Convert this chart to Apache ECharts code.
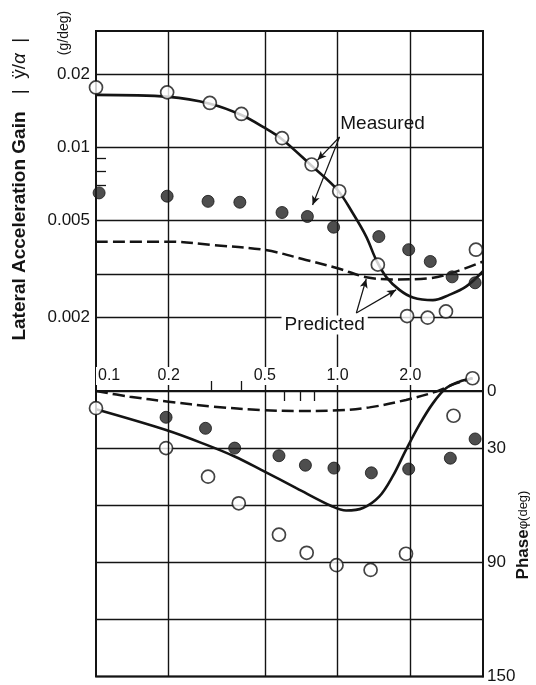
<!DOCTYPE html>
<html>
<head>
<meta charset="utf-8">
<script src="https://cdn.jsdelivr.net/npm/echarts@6/dist/echarts.min.js"></script>
<style>
  html, body { margin: 0; padding: 0; background: #ffffff; }
  #chart { width: 536px; height: 685px; }
</style>
</head>
<body>
<div id="chart"></div>
<script>
// Frequency axis (Hz, log scale)
const freqGrid = [0.2, 0.5, 1, 2];
const freqLabels = [0.1, 0.2, 0.5, 1, 2];
const freqMinorUp = [0.3, 0.4];
const freqMinorDown = [0.6, 0.7, 0.8];

// Gain axis (g/deg, log scale)
const gainGrid = [0.002, 0.003, 0.005, 0.01, 0.02];
const gainLabels = [0.002, 0.005, 0.01, 0.02];
const gainMinor = [0.007, 0.008, 0.009];

// Phase axis (deg)
const phaseLabels = [0, 30, 90, 150];

// Gain: measured, open circles
const gainOpenFreq = [0.1, 0.197, 0.296, 0.40, 0.589, 0.781, 1.016, 1.468, 1.94, 2.36, 2.81, 3.74];
const gainOpen = [0.0176, 0.0168, 0.0152, 0.0137, 0.0109, 0.0085, 0.0066, 0.0033, 0.00203, 0.0020, 0.00212, 0.0038];

// Gain: measured, filled circles
const gainFilledFreq = [0.103, 0.197, 0.291, 0.394, 0.589, 0.750, 0.963, 1.482, 1.97, 2.42, 2.98, 3.71];
const gainFilled = [0.0065, 0.0063, 0.0060, 0.00595, 0.0054, 0.0052, 0.0047, 0.0043, 0.0038, 0.0034, 0.00294, 0.00278];

// Gain: predicted, solid curve
const gainSolidFreq = [0.1, 0.2, 0.296, 0.40, 0.5, 0.589, 0.781, 1.0, 1.157, 1.314, 1.445, 1.589, 1.804, 2.05, 2.48, 2.90, 3.40, 4.0];
const gainSolid = [0.0164, 0.0161, 0.0151, 0.01357, 0.0120, 0.0108, 0.0084, 0.00668, 0.00536, 0.0043, 0.00345, 0.00294, 0.0026, 0.00242, 0.00236, 0.00248, 0.00268, 0.0031];

// Gain: predicted, dashed curve
const gainDashFreq = [0.1, 0.2, 0.305, 0.5, 0.74, 1.0, 1.314, 1.69, 2.40, 3.09, 4.0];
const gainDash = [0.0041, 0.0041, 0.00397, 0.00379, 0.00345, 0.00319, 0.00293, 0.00287, 0.0029, 0.00309, 0.0034];

// Phase: measured, open circles
const phaseOpenFreq = [0.1, 0.195, 0.291, 0.39, 0.572, 0.745, 0.99, 1.37, 1.92, 3.02, 3.62];
const phaseOpen = [9, 30, 45, 59, 75.5, 85, 91.5, 94, 85.5, 13, -6.7];

// Phase: measured, filled circles
const phaseFilledFreq = [0.195, 0.284, 0.375, 0.572, 0.736, 0.966, 1.38, 1.97, 2.93, 3.71];
const phaseFilled = [13.8, 19.6, 30, 34, 39, 40.5, 43, 41, 35.3, 25.2];

// Phase: predicted, solid curve
const phaseSolidFreq = [0.1, 0.195, 0.287, 0.375, 0.483, 0.675, 0.953, 1.085, 1.273, 1.49, 1.69, 1.92, 2.18, 2.48, 2.81, 3.19, 3.62];
const phaseSolid = [9.6, 20.5, 28.3, 34.4, 41.4, 51, 60.7, 62.8, 61.5, 55.4, 44.9, 30.9, 17.8, 6.5, -1.4, -4.9, -6.7];

// Phase: predicted, dashed curve
const phaseDashFreq = [0.1, 0.138, 0.2, 0.305, 0.483, 0.675, 0.953, 1.356, 1.92, 2.56, 3.09, 3.62];
const phaseDash = [0, 3, 5.6, 8.2, 10, 10.5, 10.3, 8.6, 4.7, 0.3, -4, -6.7];

// Callout arrows (data coordinates: [freq, gain])
const measuredArrows = [
  [[1.019, 0.01102], [0.826, 0.00886]],
  [[1.019, 0.01102], [0.788, 0.0058]]
];
const predictedArrows = [
  [[1.196, 0.00209], [1.314, 0.00288]],
  [[1.196, 0.00209], [1.747, 0.0026]]
];
const measuredLabelAt = [1.535, 0.01246];
const predictedLabelAt = [0.884, 0.001866];

const zip = (xs, ys) => xs.map((x, i) => [x, ys[i]]);
const INK = '#141414';
const FONT = '"Liberation Sans", Arial, Helvetica, sans-serif';
const gridLine = { show: true, lineStyle: { color: INK, width: 1.4, type: 'solid' } };
const trim = v => String(parseFloat(Number(v).toPrecision(3)));

const chart = echarts.init(document.getElementById('chart'), null, { renderer: 'canvas' });

const option = {
  animation: false,
  backgroundColor: '#ffffff',
  textStyle: { fontFamily: FONT, color: INK },
  grid: [
    { left: 96, right: 53, top: 31, height: 360, show: true, borderColor: INK, borderWidth: 2, backgroundColor: 'transparent' },
    { left: 96, right: 53, top: 391, height: 286, show: true, borderColor: INK, borderWidth: 2, backgroundColor: 'transparent' }
  ],
  xAxis: [
    {
      gridIndex: 0, type: 'log', logBase: 10, min: 0.1, max: 4,
      axisLine: { show: false },
      axisTick: { show: false, customValues: freqGrid },
      axisLabel: { show: false },
      splitLine: gridLine
    },
    {
      gridIndex: 1, type: 'log', logBase: 10, min: 0.1, max: 4, position: 'top',
      axisLine: { show: true, lineStyle: { color: INK, width: 2 } },
      axisTick: { show: false, customValues: freqGrid },
      axisLabel: {
        show: true, customValues: freqLabels, margin: 6,
        fontSize: 16, color: INK, fontFamily: FONT,
        backgroundColor: '#ffffff', padding: [1, 2, 1, 2],
        alignMinLabel: 'left',
        formatter: v => Number(v).toFixed(1)
      },
      splitLine: gridLine,
      z: 10
    },
    {
      gridIndex: 1, type: 'log', logBase: 10, min: 0.1, max: 4, position: 'top',
      axisLine: { show: false },
      axisTick: { show: true, inside: false, length: 10, customValues: freqMinorUp, lineStyle: { color: INK, width: 1.3 } },
      axisLabel: { show: false },
      splitLine: { show: false }
    },
    {
      gridIndex: 1, type: 'log', logBase: 10, min: 0.1, max: 4, position: 'top',
      axisLine: { show: false },
      axisTick: { show: true, inside: true, length: 10, customValues: freqMinorDown, lineStyle: { color: INK, width: 1.3 } },
      axisLabel: { show: false },
      splitLine: { show: false }
    }
  ],
  yAxis: [
    {
      gridIndex: 0, type: 'log', logBase: 10, min: 0.001, max: 0.03,
      axisLine: { show: true, lineStyle: { color: INK, width: 2 } },
      axisTick: { show: false, customValues: gainGrid },
      axisLabel: {
        show: true, customValues: gainLabels, margin: 6,
        fontSize: 17, color: INK, fontFamily: FONT,
        formatter: v => trim(v)
      },
      splitLine: gridLine
    },
    {
      gridIndex: 0, type: 'log', logBase: 10, min: 0.001, max: 0.03, position: 'left',
      axisLine: { show: false },
      axisTick: { show: true, inside: true, length: 10, customValues: gainMinor, lineStyle: { color: INK, width: 1.3 } },
      axisLabel: { show: false },
      splitLine: { show: false }
    },
    {
      gridIndex: 1, type: 'value', min: 0, max: 150, interval: 30, inverse: true, position: 'right',
      axisLine: { show: true, lineStyle: { color: INK, width: 2 } },
      axisTick: { show: false },
      axisLabel: {
        show: true, customValues: phaseLabels, margin: 4,
        fontSize: 17, color: INK, fontFamily: FONT
      },
      splitLine: gridLine
    }
  ],
  graphic: [
    {
      type: 'text', x: 20, y: 226, rotation: Math.PI / 2,
      style: { text: 'Lateral Acceleration Gain', font: 'bold 19px ' + FONT, fill: INK, align: 'center', verticalAlign: 'middle' }
    },
    {
      type: 'text', x: 20, y: 66, rotation: Math.PI / 2,
      style: {
        text: '{n||  ÿ/}{g|α}{n|  |}',
        fill: INK, align: 'center', verticalAlign: 'middle',
        rich: {
          n: { fontSize: 19, fontFamily: FONT, fill: INK },
          g: { fontSize: 19, fontFamily: FONT, fontStyle: 'italic', fill: INK }
        }
      }
    },
    {
      type: 'text', x: 64, y: 33, rotation: Math.PI / 2,
      style: { text: '(g/deg)', font: '14px ' + FONT, fill: INK, align: 'center', verticalAlign: 'middle' }
    },
    {
      type: 'text', x: 523, y: 535, rotation: Math.PI / 2,
      style: {
        text: '{b|Phase}{s|φ(deg)}',
        fill: INK, align: 'center', verticalAlign: 'middle',
        rich: {
          b: { fontSize: 17, fontWeight: 'bold', fontFamily: FONT, fill: INK },
          s: { fontSize: 13, fontFamily: FONT, fill: INK }
        }
      }
    }
  ],
  series: [
    {
      name: 'Gain predicted (solid)', type: 'line', xAxisIndex: 0, yAxisIndex: 0,
      data: zip(gainSolidFreq, gainSolid), smooth: 0.35, showSymbol: false, symbol: 'none',
      lineStyle: { color: INK, width: 2.6 }, z: 3
    },
    {
      name: 'Gain predicted (dashed)', type: 'line', xAxisIndex: 0, yAxisIndex: 0,
      data: zip(gainDashFreq, gainDash), smooth: 0.35, showSymbol: false, symbol: 'none',
      lineStyle: { color: INK, width: 2.5, type: [12, 5] }, z: 3,
      markLine: {
        silent: true, symbol: ['none', 'arrow'], symbolSize: [6, 9],
        lineStyle: { color: INK, width: 1.2, type: 'solid' },
        label: { show: false },
        data: measuredArrows.concat(predictedArrows).map(a => [{ coord: a[0] }, { coord: a[1] }])
      },
      markPoint: {
        silent: true, symbol: 'circle', symbolSize: 1,
        itemStyle: { color: 'rgba(0,0,0,0)' },
        data: [
          {
            name: 'Measured', coord: measuredLabelAt,
            label: { show: true, position: 'inside', formatter: 'Measured', fontSize: 19, color: INK, fontFamily: FONT }
          },
          {
            name: 'Predicted', coord: predictedLabelAt,
            label: { show: true, position: 'inside', formatter: 'Predicted', fontSize: 19, color: INK, fontFamily: FONT, backgroundColor: '#ffffff', padding: [0, 3] }
          }
        ]
      }
    },
    {
      name: 'Gain measured (open)', type: 'scatter', xAxisIndex: 0, yAxisIndex: 0,
      data: zip(gainOpenFreq, gainOpen), symbol: 'circle', symbolSize: 13,
      itemStyle: { color: '#ffffff', borderColor: INK, borderWidth: 1.7 }, z: 5
    },
    {
      name: 'Gain measured (filled)', type: 'scatter', xAxisIndex: 0, yAxisIndex: 0,
      data: zip(gainFilledFreq, gainFilled), symbol: 'circle', symbolSize: 12,
      itemStyle: { color: '#222222', borderColor: INK, borderWidth: 1 }, z: 5
    },
    {
      name: 'Phase predicted (solid)', type: 'line', xAxisIndex: 1, yAxisIndex: 2, clip: false,
      data: zip(phaseSolidFreq, phaseSolid), smooth: 0.35, showSymbol: false, symbol: 'none',
      lineStyle: { color: INK, width: 2.6 }, z: 3
    },
    {
      name: 'Phase predicted (dashed)', type: 'line', xAxisIndex: 1, yAxisIndex: 2, clip: false,
      data: zip(phaseDashFreq, phaseDash), smooth: 0.35, showSymbol: false, symbol: 'none',
      lineStyle: { color: INK, width: 2.5, type: [12, 5] }, z: 3
    },
    {
      name: 'Phase measured (open)', type: 'scatter', xAxisIndex: 1, yAxisIndex: 2, clip: false,
      data: zip(phaseOpenFreq, phaseOpen), symbol: 'circle', symbolSize: 13,
      itemStyle: { color: '#ffffff', borderColor: INK, borderWidth: 1.7 }, z: 5
    },
    {
      name: 'Phase measured (filled)', type: 'scatter', xAxisIndex: 1, yAxisIndex: 2, clip: false,
      data: zip(phaseFilledFreq, phaseFilled), symbol: 'circle', symbolSize: 12,
      itemStyle: { color: '#222222', borderColor: INK, borderWidth: 1 }, z: 5
    }
  ]
};

chart.setOption(option);
</script>
</body>
</html>
